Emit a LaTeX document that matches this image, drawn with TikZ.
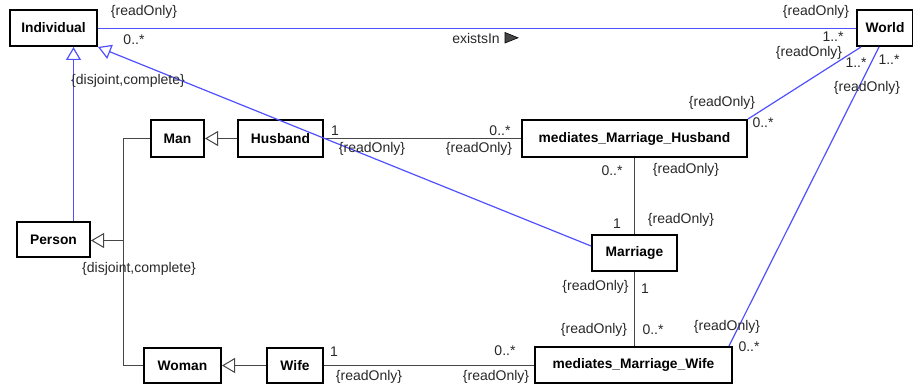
\documentclass[tikz,border=0pt]{standalone}
\usepackage{fontspec}
\setmainfont{Liberation Sans}
\usetikzlibrary{arrows.meta,calc}
\definecolor{umlblue}{RGB}{80,80,255}
\definecolor{umlgray}{RGB}{70,70,70}
\definecolor{txtc}{RGB}{40,40,40}
\begin{document}
\begin{tikzpicture}[x=1pt,y=-1pt,
 cls/.style={draw=black, line width=2pt, fill=white, inner sep=0pt, font=\fontsize{13.8}{15}\selectfont\bfseries},
 lbl/.style={inner sep=0pt, text=txtc, font=\fontsize{14}{16}\selectfont},
 gen/.style={-{Triangle[open,length=13pt,width=15pt,fill=white]}},
 bl/.style={draw=umlblue, line width=1.2pt},
 assoc/.style={draw=umlgray, line width=1pt}]
\useasboundingbox (0,0) rectangle (913,385);

% classes
\node[cls, minimum width=87pt, minimum height=36pt] (Individual) at (53.5,28) {Individual};
\node[cls, minimum width=56pt, minimum height=36pt] (World) at (885,28) {World};
\node[cls, minimum width=53pt, minimum height=37pt] (Man) at (177.5,138.5) {Man};
\node[cls, minimum width=85pt, minimum height=37pt] (Husband) at (280.5,138.5) {Husband};
\node[cls, minimum width=225pt, minimum height=37pt] (mMH) at (634.5,138.5) {mediates\_Marriage\_Husband};
\node[cls, minimum width=73pt, minimum height=35pt] (Person) at (53.5,239.5) {Person};
\node[cls, minimum width=85pt, minimum height=36pt] (Marriage) at (634.5,253) {Marriage};
\node[cls, minimum width=77pt, minimum height=35pt] (Woman) at (182.5,365.5) {Woman};
\node[cls, minimum width=56pt, minimum height=35pt] (Wife) at (295,365.5) {Wife};
\node[cls, minimum width=197pt, minimum height=36pt] (mMW) at (633.5,365) {mediates\_Marriage\_Wife};

% associations
\draw[bl] ([yshift=-0.5pt]Individual.east) -- ([yshift=-0.5pt]World.west);
\draw[assoc] (Husband) -- (mMH);
\draw[assoc] (Wife.east) -- (Wife.east -| mMW.west);
\draw[assoc] (mMH) -- (Marriage);
\draw[assoc] (Marriage.south) -- (Marriage.south |- mMW.north);
\draw[bl] (mMH.north east) -- ([xshift=5pt]World.south west);
\draw[bl] ([xshift=-4pt]mMW.north east) -- ([xshift=23pt]World.south west);

% generalizations
\coordinate (jn) at (123.5,240.5);
\draw[assoc] (Man.west) -| (jn) |- (Woman.west);
\draw[assoc,gen] (jn) -- (jn -| Person.east);
\draw[assoc,gen] (Husband) -- (Man);
\draw[assoc,gen] (Wife) -- (Woman);
\draw[bl,gen] ([xshift=20pt]Person.north) -- ([xshift=20pt]Individual.south);
\draw[bl,gen] ([yshift=7pt]Marriage.west) -- (Individual.south east);

% existsIn
\node[lbl] (ex) at (476,38) {existsIn};
\filldraw[draw=black, fill=umlgray, line width=0.6pt] (505,32.5) -- (518,37.8) -- (505,43) -- cycle;

% labels
\node[lbl] (l1) at (144,12) {\{readOnly\}};
\node[lbl] (l2) at (134,40) {0..*};
\node[lbl] (l3) at (816,12) {\{readOnly\}};
\node[lbl] (l4) at (833,37) {1..*};
\node[lbl] (l5) at (128,81) {\{disjoint,complete\}};
\node[lbl] (l6) at (139,269) {\{disjoint,complete\}};
\node[lbl] (l7) at (335,131) {1};
\node[lbl] (l8) at (372,149) {\{readOnly\}};
\node[lbl] (l9) at (500,131) {0..*};
\node[lbl] (l10) at (479,149) {\{readOnly\}};
\node[lbl] (l11) at (612,171) {0..*};
\node[lbl] (l12) at (686,170) {\{readOnly\}};
\node[lbl] (l13) at (617,224) {1};
\node[lbl] (l14) at (681,220) {\{readOnly\}};
\node[lbl] (l15) at (595.5,287) {\{readOnly\}};
\node[lbl] (l16) at (645,289) {1};
\node[lbl] (l17) at (594,330) {\{readOnly\}};
\node[lbl] (l18) at (653,330) {0..*};
\node[lbl] (l19) at (727,327) {\{readOnly\}};
\node[lbl] (l20) at (749,347) {0..*};
\node[lbl] (l21) at (334,352) {1};
\node[lbl] (l22) at (369,377) {\{readOnly\}};
\node[lbl] (l23) at (505,351) {0..*};
\node[lbl] (l24) at (496,377) {\{readOnly\}};
\node[lbl] (l25) at (809,53) {\{readOnly\}};
\node[lbl] (l26) at (856,63) {1..*};
\node[lbl] (l27) at (722,103) {\{readOnly\}};
\node[lbl] (l28) at (763,123) {0..*};
\node[lbl] (l29) at (889,60) {1..*};
\node[lbl] (l30) at (867,88) {\{readOnly\}};
\end{tikzpicture}
\end{document}
